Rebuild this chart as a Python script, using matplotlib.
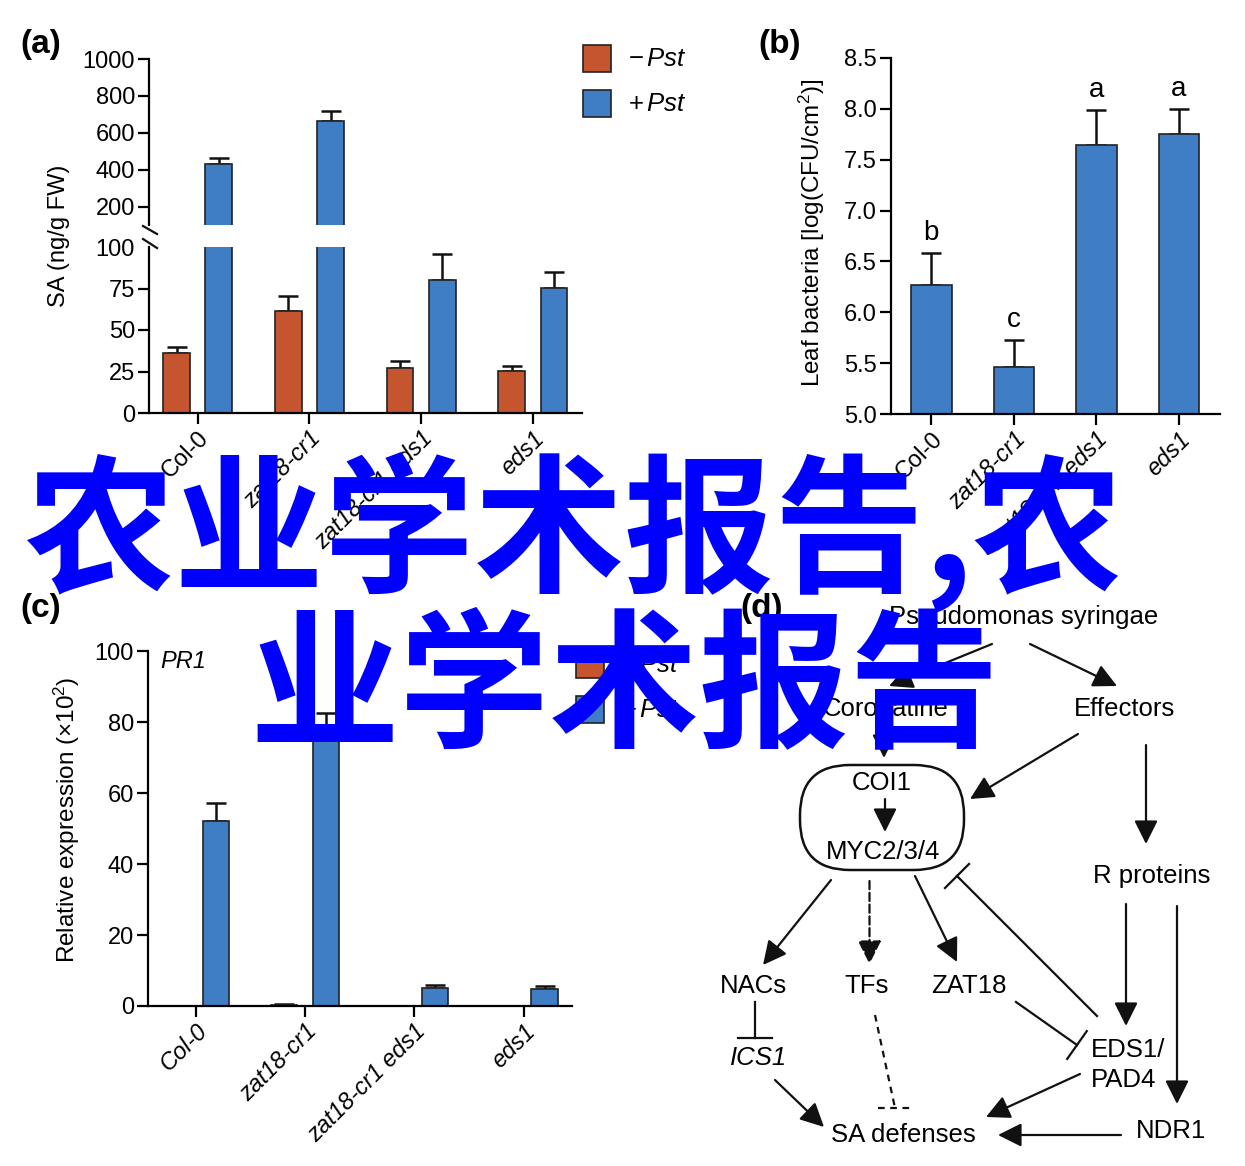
import numpy as np
import matplotlib
matplotlib.use('Agg')
import matplotlib.pyplot as plt
from matplotlib.patches import Rectangle, FancyBboxPatch
from matplotlib.lines import Line2D

# ---- data ----
genotypes = ['Col-0', 'zat18-cr1', 'zat18-cr1 eds1', 'eds1']

# (a) SA content (ng/g FW)
sa_mock = [36, 61.5, 27.3, 25.2]
sa_mock_err = [4, 9.2, 4, 3]
sa_pst = [431, 664, 80, 75.5]
sa_pst_err = [31, 54, 15.7, 9.3]

# (b) leaf bacteria log(CFU/cm2)
cfu = [6.27, 5.465, 7.64, 7.75]
cfu_err = [0.31, 0.265, 0.35, 0.25]
cfu_letters = ['b', 'c', 'a', 'a']

# (c) PR1 relative expression (x10^2)
pr1_mock = [0.05, 0.3, 0.05, 0.05]
pr1_mock_err = [0, 0.3, 0, 0]
pr1_pst = [52, 78, 5.2, 4.9]
pr1_pst_err = [5.2, 4.6, 0.8, 0.7]

legend_labels = [r'$-\,\mathit{Pst}$', r'$+\,\mathit{Pst}$']

# (d) pathway diagram nodes / edges
nodes = {
    'Pseudomonas syringae': (1024, 617),
    'Coronatine': (886, 709),
    'Effectors': (1124, 709),
    'COI1': (882, 783),
    'MYC2/3/4': (883, 852),
    'R proteins': (1152, 876),
    'NACs': (753, 986),
    'TFs': (867, 986),
    'ZAT18': (969, 986),
    'SA defenses': (903, 1135),
    'NDR1': (1171, 1131),
}
arrows = [
    ((992, 644), (889, 686), '-'),
    ((1030, 644), (1117, 686), '-'),
    ((884, 728), (884, 758), '-'),
    ((885, 799), (885, 832), '-'),
    ((1078, 734), (970, 799), '-'),
    ((1146, 745), (1146, 844), '-'),
    ((831, 880), (763, 965), '-'),
    ((869.5, 881), (869.5, 964), '--'),
    ((915, 876), (957, 962), '-'),
    ((1126, 904), (1126, 1026), '-'),
    ((1177, 906), (1177, 1104), '-'),
    ((775, 1080), (824, 1127), '-'),
    ((1080, 1074), (986, 1117), '-'),
    ((1121, 1135), (998, 1135), '-'),
]
inhibits = [
    ((1097, 1016), (957, 876), '-', False),
    ((1016, 1002), (1077, 1045), '-', False),
    ((755, 1002), (755, 1038), '-', True),
    ((875, 1015), (895, 1108), '--', True),
]

RED = '#C5552F'
BLUE = '#3F7EC4'
EDGE = '#222222'
W, H = 1245, 1166

plt.rcParams['font.family'] = ['Liberation Sans', 'DejaVu Sans']
plt.rcParams['mathtext.fontset'] = 'custom'
plt.rcParams['mathtext.rm'] = 'Liberation Sans'
plt.rcParams['mathtext.it'] = 'Liberation Sans:italic'
plt.rcParams['mathtext.bf'] = 'Liberation Sans:bold'
plt.rcParams['axes.linewidth'] = 1.6

fig = plt.figure(figsize=(W / 100, H / 100), dpi=100)


def px_axes(x0, y0, x1, y1):
    return fig.add_axes([x0 / W, 1 - y1 / H, (x1 - x0) / W, (y1 - y0) / H])


def style(ax):
    ax.spines['top'].set_visible(False)
    ax.spines['right'].set_visible(False)
    ax.tick_params(direction='out', length=8, width=1.6, labelsize=17, pad=2)


def set_xlabels(ax, italic_col=False):
    x = np.arange(len(genotypes))
    ax.set_xticks(x)
    ax.set_xticklabels(genotypes, rotation=45, ha='right', va='top',
                       rotation_mode='anchor', fontsize=17)
    for i, lab in enumerate(ax.get_xticklabels()):
        if i > 0 or italic_col:
            lab.set_fontstyle('italic')


def bars(ax, x, vals, errs, color, width, ymin=None):
    vals = np.asarray(vals, float)
    errs = np.asarray(errs, float)
    ax.bar(x, vals, width, color=color, edgecolor=EDGE, linewidth=1.2, zorder=2)
    keep = np.ones(len(vals), bool) if ymin is None else vals > ymin
    if keep.any():
        ax.errorbar(np.asarray(x)[keep], vals[keep], yerr=[np.zeros(keep.sum()), errs[keep]],
                    fmt='none', ecolor='#111111', elinewidth=1.8, capsize=7.5,
                    capthick=1.8, zorder=1)


def pxline(x0, y0, x1, y1, **kw):
    fig.add_artist(Line2D([x0 / W, x1 / W], [1 - y0 / H, 1 - y1 / H], color='#111111', lw=1.6, **kw))


def px_legend(x0, y0):
    # two square swatches with labels, top-left at pixel (x0, y0)
    for i, (c, lab) in enumerate(zip([RED, BLUE], legend_labels)):
        top = y0 + i * 45
        fig.add_artist(Rectangle((x0 / W, 1 - (top + 27) / H), 28 / W, 27 / H,
                                 transform=fig.transFigure, facecolor=c,
                                 edgecolor=EDGE, linewidth=1.2))
        fig.text((x0 + 45) / W, 1 - (top + 14) / H, lab, ha='left', va='center', fontsize=18.5)


x = np.arange(len(genotypes))
off, bw = 0.189, 0.239

# ---- (a) broken axis ----
ax_top = px_axes(149, 59, 582, 225)
ax_bot = px_axes(149, 247, 582, 413)
style(ax_top)
style(ax_bot)
bars(ax_top, x - off, sa_mock, sa_mock_err, RED, bw, ymin=100)
bars(ax_top, x + off, sa_pst, sa_pst_err, BLUE, bw, ymin=100)
bars(ax_bot, x - off, sa_mock, sa_mock_err, RED, bw)
bars(ax_bot, x + off, sa_pst, sa_pst_err, BLUE, bw)
for ax in (ax_top, ax_bot):
    ax.set_xlim(-0.436, 3.44)
ax_top.set_ylim(100, 1000)
ax_top.set_yticks([200, 400, 600, 800, 1000])
ax_top.spines['bottom'].set_visible(False)
ax_top.tick_params(axis='x', bottom=False, labelbottom=False)
ax_bot.set_ylim(0, 100)
ax_bot.set_yticks([0, 25, 50, 75, 100])
ax_bot.yaxis.get_major_ticks()[-1].tick1line.set_visible(False)
set_xlabels(ax_bot)
pxline(143, 226, 157, 234)
pxline(143, 239, 157, 248)
fig.text(59 / W, 1 - 236 / H, 'SA (ng/g FW)', rotation=90, ha='center', va='center', fontsize=17)
px_legend(583, 45)

# ---- (b) ----
ax_b = px_axes(891, 58, 1220, 414)
style(ax_b)
bars(ax_b, x, cfu, cfu_err, BLUE, 0.492)
for xi, v, e, lt in zip(x, cfu, cfu_err, cfu_letters):
    ax_b.annotate(lt, (xi, v + e), xytext=(0, 5), textcoords='offset points',
                  ha='center', va='bottom', fontsize=20)
ax_b.set_ylim(5.0, 8.5)
ax_b.set_yticks(np.arange(5.0, 8.51, 0.5))
ax_b.set_yticklabels(['%.1f' % t for t in np.arange(5.0, 8.51, 0.5)])
ax_b.set_xlim(-0.4875, 3.496)
set_xlabels(ax_b)
fig.text(812 / W, 1 - 233 / H, r'Leaf bacteria [log(CFU/cm$^2$)]', rotation=90,
         ha='center', va='center', fontsize=17.5)

# ---- (c) ----
ax_c = px_axes(148, 651, 572, 1006)
style(ax_c)
bars(ax_c, x - off, pr1_mock, pr1_mock_err, RED, bw)
bars(ax_c, x + off, pr1_pst, pr1_pst_err, BLUE, bw)
ax_c.set_ylim(0, 100)
ax_c.set_yticks([0, 20, 40, 60, 80, 100])
ax_c.set_xlim(-0.434, 3.44)
set_xlabels(ax_c, italic_col=True)
fig.text(67 / W, 1 - 820 / H, r'Relative expression ($\times$10$^2$)', rotation=90,
         ha='center', va='center', fontsize=17.5)
fig.text(160 / W, 1 - 661 / H, 'PR1', fontstyle='italic', ha='left', va='center', fontsize=17)
px_legend(576, 651)

# ---- (d) diagram ----
ax_d = px_axes(700, 580, 1245, 1166)
ax_d.set_xlim(700, 1245)
ax_d.set_ylim(1166, 580)
ax_d.axis('off')
for name, (nx, ny) in nodes.items():
    ax_d.text(nx, ny, name, ha='center', va='center', fontsize=18.5)
ax_d.text(759, 1058, 'ICS1', ha='center', va='center', fontsize=18.5, fontstyle='italic')
ax_d.text(1091, 1050, 'EDS1/', ha='left', va='center', fontsize=18.5)
ax_d.text(1091, 1080, 'PAD4', ha='left', va='center', fontsize=18.5)
ax_d.add_patch(FancyBboxPatch((800, 765), 164, 105, boxstyle='round,pad=0,rounding_size=50',
                              fill=False, edgecolor='#111111', lw=1.8))
for (x0, y0), (x1, y1), ls in arrows:
    ax_d.annotate('', xy=(x1, y1), xytext=(x0, y0),
                  arrowprops=dict(arrowstyle='-|>,head_length=0.9,head_width=0.45', mutation_scale=16,
                                  lw=1.6, color='#111111', linestyle=ls, shrinkA=0, shrinkB=0))
for (x0, y0), (x1, y1), ls, flat in inhibits:
    dash = (0, (3, 2.5)) if ls == '--' else '-'
    ax_d.plot([x0, x1], [y0, y1], color='#111111', lw=1.6, linestyle=dash)
    if flat:
        px, py = 1.0, 0.0
    else:
        dx, dy = x1 - x0, y1 - y0
        n = np.hypot(dx, dy)
        px, py = -dy / n, dx / n
    ax_d.plot([x1 - 17 * px, x1 + 17 * px], [y1 - 17 * py, y1 + 17 * py],
              color='#111111', lw=1.6, linestyle=dash)

# ---- panel letters ----
for lab, (lx, ly) in {'(a)': (41, 45), '(b)': (780, 45), '(c)': (41, 608), '(d)': (762, 608)}.items():
    fig.text(lx / W, 1 - ly / H, lab, fontsize=24, fontweight='bold', ha='center', va='center')

# ---- watermark overlay ----
fig.text(24 / W, 1 - 580 / H, '农业学术报告,农', fontsize=108, fontweight='bold', color='#0000FF',
         family=['Noto Sans CJK SC'], ha='left', va='baseline', zorder=20)
fig.text(249 / W, 1 - 735 / H, '业学术报告', fontsize=108, fontweight='bold', color='#0000FF',
         family=['Noto Sans CJK SC'], ha='left', va='baseline', zorder=20)

fig.savefig('out.png', dpi=100)
